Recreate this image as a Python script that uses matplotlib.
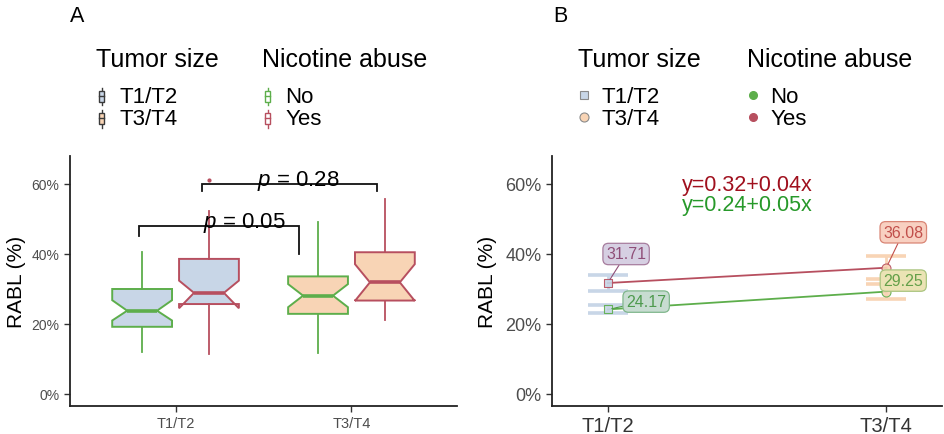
import matplotlib
matplotlib.use("Agg")
import matplotlib.pyplot as plt
from matplotlib.lines import Line2D
from matplotlib.patches import Rectangle
from matplotlib.legend_handler import HandlerBase

plt.rcParams['font.family'] = ['Liberation Sans', 'DejaVu Sans']
plt.rcParams['mathtext.fontset'] = 'custom'
plt.rcParams['mathtext.it'] = 'Liberation Sans:italic'
plt.rcParams['mathtext.rm'] = 'Liberation Sans'

# ---------------- data ----------------
tumor_sizes = ["T1/T2", "T3/T4"]
nicotine = ["No", "Yes"]
y_ticks = [0, 20, 40, 60]
y_tick_labels = ["0%", "20%", "40%", "60%"]

# Panel A: boxplot statistics (RABL %), order: [T1/T2, T3/T4]
no_q1 = [19.2, 22.9]
no_med = [23.8, 28.1]
no_q3 = [30.0, 33.6]
no_cilo = [21.0, 24.8]
no_cihi = [26.8, 31.4]
no_whislo = [11.9, 11.7]
no_whishi = [40.7, 49.0]
no_fliers = [[], []]

yes_q1 = [25.7, 26.7]
yes_med = [28.9, 31.9]
yes_q3 = [38.6, 40.5]
yes_cilo = [24.5, 26.6]
yes_cihi = [32.4, 37.1]
yes_whislo = [11.4, 21.2]
yes_whishi = [52.4, 55.7]
yes_fliers = [[61.0], []]

p_values = ["0.05", "0.28"]

# Panel B: means and error bar limits
no_mean = [24.17, 29.25]
no_lo = [23.1, 27.1]
no_hi = [25.5, 31.3]
yes_mean = [31.71, 36.08]
yes_lo = [29.5, 32.8]
yes_hi = [34.0, 39.4]
eq_yes = "y=0.32+0.04x"
eq_no = "y=0.24+0.05x"

# ---------------- styles ----------------
c_t1 = '#c8d6e7'
c_t3 = '#f8d4b5'
c_no = '#5dae4b'
c_yes = '#b74f5f'
tick_grey = '#4d4d4d'

W, H = 944, 435
fig = plt.figure(figsize=(W / 100, H / 100), dpi=100)


def px_axes(l, t, r, b):
    return fig.add_axes([l / W, 1 - b / H, (r - l) / W, (b - t) / H])


axA = px_axes(70, 157, 457, 407)
axB = px_axes(552, 157, 942, 407)

for ax in (axA, axB):
    for s in ('top', 'right'):
        ax.spines[s].set_visible(False)
    for s in ('left', 'bottom'):
        ax.spines[s].set_linewidth(1.3)
        ax.spines[s].set_color('#222222')
    ax.set_ylim(-3.43, 68.0)
    ax.set_yticks(y_ticks)
    ax.set_yticklabels(y_tick_labels)
    ax.tick_params(length=4, width=1.0, color='#333333')

# ---------------- Panel A ----------------
dodge = 0.19
bw = 0.34
xcat = [1, 2]


def make_stats(i, q1, med, q3, cilo, cihi, wl, wh, fl):
    return dict(q1=q1[i], med=med[i], q3=q3[i], cilo=cilo[i], cihi=cihi[i],
                whislo=wl[i], whishi=wh[i], fliers=fl[i])


fills = [c_t1, c_t3]
for grp, col, args, off in [
        ('no', c_no, (no_q1, no_med, no_q3, no_cilo, no_cihi, no_whislo, no_whishi, no_fliers), -dodge),
        ('yes', c_yes, (yes_q1, yes_med, yes_q3, yes_cilo, yes_cihi, yes_whislo, yes_whishi, yes_fliers), dodge)]:
    for i in range(2):
        st = make_stats(i, *args)
        axA.bxp([st], positions=[xcat[i] + off], widths=bw, shownotches=True,
                patch_artist=True, showcaps=False,
                boxprops=dict(facecolor=fills[i], edgecolor=col, linewidth=1.4),
                medianprops=dict(color=col, linewidth=2.6),
                whiskerprops=dict(color=col, linewidth=1.3),
                flierprops=dict(marker='o', markersize=2, markerfacecolor=col,
                                markeredgecolor=col))

axA.set_xlim(0.4, 2.6)
axA.set_xticks(xcat)
axA.set_xticklabels(tumor_sizes)
axA.tick_params(axis='y', labelsize=10, labelcolor=tick_grey)
axA.tick_params(axis='x', labelsize=10.5, labelcolor=tick_grey)
axA.set_ylabel('RABL (%)', fontsize=15, labelpad=4)

# significance brackets (layout positions)
br1 = dict(x0=0.795, x1=1.70, ytop=47.9, yl0=45.0, yl1=40.0, tx=1.39, ty=47.6, txt=p_values[0])
br2 = dict(x0=1.148, x1=2.148, ytop=60.0, yl0=58.0, yl1=58.0, tx=1.70, ty=59.6, txt=p_values[1])
for b in (br1, br2):
    axA.plot([b['x0'], b['x0'], b['x1'], b['x1']], [b['yl0'], b['ytop'], b['ytop'], b['yl1']],
             color='#111111', lw=1.3, solid_joinstyle='miter')
    axA.text(b['tx'], b['ty'], r'$p$ = ' + b['txt'], ha='center', va='baseline',
             fontsize=16, color='black')

# ---------------- Panel B ----------------
axB.set_xlim(0.8, 2.2)
axB.set_xticks(xcat)
axB.set_xticklabels(tumor_sizes)
axB.tick_params(axis='y', labelsize=13, labelcolor=tick_grey)
axB.tick_params(axis='x', labelsize=14.5, labelcolor='#333333')
axB.set_ylabel('RABL (%)', fontsize=15, labelpad=6)

tcols = [c_t1, c_t3]
markers = ['s', 'o']
for means, lo, hi, col in [(yes_mean, yes_lo, yes_hi, c_yes), (no_mean, no_lo, no_hi, c_no)]:
    for i in range(2):
        axB.errorbar([xcat[i]], [means[i]], yerr=[[means[i] - lo[i]], [hi[i] - means[i]]],
                     fmt='none', ecolor=tcols[i], elinewidth=2.0, capsize=14.4,
                     capthick=2.6, zorder=1)
    axB.plot(xcat, means, color=col, lw=1.3, zorder=2)
    for i in range(2):
        axB.scatter([xcat[i]], [means[i]], marker=markers[i], s=42 if i else 34,
                    facecolor=tcols[i], edgecolor=col, linewidth=0.8, zorder=3, alpha=0.9)

# repelled labels (layout offsets)
label_pos = {('yes', 0): (1.066, 40.0), ('no', 0): (1.138, 26.4),
             ('yes', 1): (2.061, 46.2), ('no', 1): (2.061, 32.4)}
label_style = {('yes', 0): ('#d6cfe2', '#a77d9e', '#8f4e78'),
               ('no', 0): ('#c7dcd1', '#80b78c', '#4e9a4e'),
               ('yes', 1): ('#f8d0c1', '#d98575', '#c14f4b'),
               ('no', 1): ('#ebe3b4', '#aac47f', '#64a049')}
for key, means in (('yes', yes_mean), ('no', no_mean)):
    for i in range(2):
        fc, ec, tc = label_style[(key, i)]
        axB.annotate(f'{means[i]:.2f}', xy=(xcat[i], means[i]), xytext=label_pos[(key, i)],
                     textcoords='data', ha='center', va='center', fontsize=11.5, color=tc,
                     bbox=dict(boxstyle='round,pad=0.2,rounding_size=0.35', fc=fc, ec=ec, lw=0.9),
                     arrowprops=dict(arrowstyle='-', color=tc, lw=0.8, shrinkA=0, shrinkB=3),
                     zorder=4)

axB.text(1.5, 59.8, eq_yes, color='#a0101e', ha='center', va='center', fontsize=15.5)
axB.text(1.5, 54.2, eq_no, color='#27992a', ha='center', va='center', fontsize=15.5)

# ---------------- panel letters ----------------
fig.text(70 / W, 1 - 22 / H, 'A', fontsize=15.5, va='baseline', ha='left')
fig.text(553 / W, 1 - 22 / H, 'B', fontsize=15.5, va='baseline', ha='left')


# ---------------- legends ----------------
class BoxKey:
    def __init__(self, fc, ec):
        self.fc, self.ec = fc, ec


class BoxKeyHandler(HandlerBase):
    def create_artists(self, legend, orig, xd, yd, width, height, fontsize, trans):
        cx = width / 2 - xd
        bw_ = width * 0.5
        top = height * 0.95
        bot = -height * 0.2
        arts = [Line2D([cx, cx], [bot, top], color=orig.ec, lw=1.0, transform=trans),
                Rectangle((cx - bw_ / 2, height * 0.05), bw_, height * 0.7, fc=orig.fc,
                          ec=orig.ec, lw=1.0, transform=trans),
                Line2D([cx - bw_ / 2, cx + bw_ / 2], [height * 0.4] * 2, color=orig.ec, lw=1.0,
                       transform=trans)]
        return arts


hmap = {BoxKey: BoxKeyHandler()}
leg_kw = dict(loc='upper left', frameon=False, fontsize=16, title_fontsize=18,
              borderpad=0, borderaxespad=0, labelspacing=0.05, handlelength=0.5,
              handletextpad=0.55, alignment='left')


def add_leg(handles, labels, title, xpx, ypx, hm=None):
    lg = fig.legend(handles, labels, title=title, bbox_to_anchor=(xpx / W, 1 - ypx / H),
                    handler_map=hm, **leg_kw)
    lg._legend_box.sep = 11
    return lg


add_leg([BoxKey(c_t1, '#3a3a3a'), BoxKey(c_t3, '#3a3a3a')], tumor_sizes, 'Tumor size', 96, 48, hmap)
add_leg([BoxKey('white', c_no), BoxKey('white', c_yes)], nicotine, 'Nicotine abuse', 262, 48, hmap)

hB1 = [Line2D([], [], ls='none', marker='s', ms=6, mfc=c_t1, mec='#8a8a8a', mew=0.8),
       Line2D([], [], ls='none', marker='o', ms=6.5, mfc=c_t3, mec='#8a8a8a', mew=0.8)]
hB2 = [Line2D([], [], ls='none', marker='o', ms=5.5, mfc=c_no, mec=c_no),
       Line2D([], [], ls='none', marker='o', ms=5.5, mfc=c_yes, mec=c_yes)]
add_leg(hB1, tumor_sizes, 'Tumor size', 578, 48)
add_leg(hB2, nicotine, 'Nicotine abuse', 747, 48)

fig.savefig('out.png', dpi=100)
